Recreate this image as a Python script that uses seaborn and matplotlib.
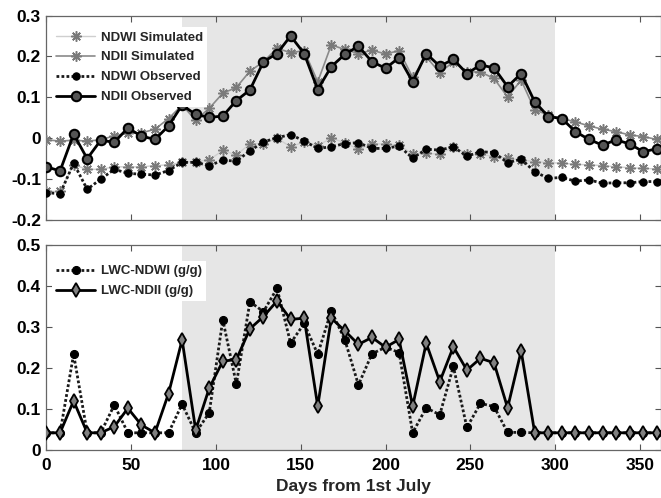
import matplotlib
matplotlib.use("Agg")
import matplotlib.pyplot as plt
import seaborn as sns

days = [0, 8, 16, 24, 32, 40, 48, 56, 64, 72, 80, 88, 96, 104, 112, 120, 128, 136, 144, 152,
        160, 168, 176, 184, 192, 200, 208, 216, 224, 232, 240, 248, 256, 264, 272, 280, 288,
        296, 304, 312, 320, 328, 336, 344, 352, 360]

ndwi_sim = [-0.13, -0.13, -0.065, -0.076, -0.076, -0.07, -0.07, -0.07, -0.067, -0.065, -0.059,
            -0.057, -0.053, -0.03, -0.041, -0.014, -0.013, 0.0, -0.021, -0.009, -0.018,
            0.0, -0.011, -0.027, -0.014, -0.014, -0.017, -0.039, -0.037, -0.039, -0.021, -0.039,
            -0.039, -0.045, -0.049, -0.053, -0.057, -0.06, -0.061, -0.064, -0.065, -0.067, -0.07,
            -0.072, -0.074, -0.075]
ndii_sim = [-0.004, -0.007, -0.005, -0.007, -0.004, 0.006, 0.012, 0.013, 0.022, 0.048, 0.081,
            0.044, 0.073, 0.11, 0.124, 0.164, 0.187, 0.22, 0.209, 0.214, 0.138,
            0.228, 0.217, 0.207, 0.215, 0.206, 0.214, 0.149, 0.199, 0.16, 0.187, 0.162, 0.162,
            0.146, 0.101, 0.142, 0.069, 0.057, 0.048, 0.04, 0.03, 0.022, 0.016, 0.008, 0.004, -0.003]
ndwi_obs = [-0.133, -0.136, -0.061, -0.125, -0.1, -0.076, -0.086, -0.088, -0.09, -0.079, -0.059,
            -0.059, -0.067, -0.054, -0.056, -0.031, -0.009, 0.001, 0.009, -0.007, -0.025,
            -0.021, -0.013, -0.011, -0.025, -0.025, -0.019, -0.049, -0.027, -0.029, -0.021, -0.044,
            -0.033, -0.035, -0.06, -0.051, -0.082, -0.098, -0.096, -0.105, -0.102, -0.11, -0.109,
            -0.109, -0.106, -0.106]
ndii_obs = [-0.07, -0.08, 0.01, -0.05, -0.005, -0.01, 0.025, 0.005, -0.003, 0.03, 0.081, 0.058,
            0.051, 0.054, 0.092, 0.118, 0.187, 0.207, 0.25, 0.207, 0.119,
            0.175, 0.205, 0.225, 0.187, 0.171, 0.197, 0.138, 0.207, 0.176, 0.193, 0.158, 0.179,
            0.172, 0.126, 0.158, 0.089, 0.053, 0.048, 0.016, -0.003, -0.017, -0.004, -0.014,
            -0.033, -0.026]

lwc_ndwi = [0.042, 0.042, 0.234, 0.042, 0.042, 0.11, 0.042, 0.042, 0.042, 0.042, 0.112, 0.042,
            0.091, 0.318, 0.161, 0.362, 0.338, 0.395, 0.261, 0.309, 0.234,
            0.34, 0.269, 0.159, 0.235, 0.251, 0.238, 0.042, 0.103, 0.086, 0.204, 0.055, 0.114,
            0.106, 0.043, 0.043, 0.042, 0.042, 0.042, 0.042, 0.042, 0.042, 0.042, 0.042, 0.042, 0.042]
lwc_ndii = [0.042, 0.042, 0.12, 0.042, 0.042, 0.057, 0.102, 0.061, 0.042, 0.138, 0.269, 0.049,
            0.151, 0.217, 0.221, 0.296, 0.326, 0.364, 0.319, 0.322, 0.107,
            0.322, 0.291, 0.258, 0.275, 0.251, 0.27, 0.107, 0.261, 0.167, 0.252, 0.195, 0.224,
            0.213, 0.103, 0.242, 0.042, 0.042, 0.042, 0.042, 0.042, 0.042, 0.042, 0.042, 0.042, 0.042]

season = [80, 300]
x_ticks = [0, 50, 100, 150, 200, 250, 300, 350]
x_ticklabels = ["0", "50", "100", "150", "200", "250", "300", "350"]
top_yticks = [-0.2, -0.1, 0.0, 0.1, 0.2, 0.3]
top_yticklabels = ["-0.2", "-0.1", "0", "0.1", "0.2", "0.3"]
bot_yticks = [0.0, 0.1, 0.2, 0.3, 0.4, 0.5]
bot_yticklabels = ["0", "0.1", "0.2", "0.3", "0.4", "0.5"]

sns.set_style("ticks")
plt.rcParams["font.family"] = ["Liberation Sans", "DejaVu Sans"]
plt.rcParams["font.weight"] = "bold"

W, H = 661, 498
fig = plt.figure(figsize=(W / 100, H / 100), dpi=100)
left = 46.5 / W
width = (W - 46.5) / W
ax1 = fig.add_axes([left, (H - 220) / H, width, 204.5 / H])
ax2 = fig.add_axes([left, (H - 450) / H, width, 204.7 / H])

for ax in (ax1, ax2):
    ax.axvspan(season[0], season[1], color="#e6e6e6", lw=0, zorder=0)
    ax.set_xlim(0, 362.5)
    ax.set_xticks(x_ticks)
    ax.tick_params(direction="in", top=True, right=True, length=4, width=0.8,
                   colors="#555555", labelcolor="black", labelsize=12.5, pad=4)
    for s in ax.spines.values():
        s.set_color("#666666")
        s.set_linewidth(0.9)
ax2.tick_params(axis="x", pad=6)

# top panel
sns.lineplot(x=days, y=ndwi_sim, ax=ax1, color="#cfcfcf", lw=1.0, marker=(8, 2, 0),
             markersize=7.5, markeredgecolor="#7a7a7a", markeredgewidth=1.1,
             label="NDWI Simulated", zorder=3)
sns.lineplot(x=days, y=ndii_sim, ax=ax1, color="#8a8a8a", lw=1.2, marker=(8, 2, 0),
             markersize=7.5, markeredgecolor="#7a7a7a", markeredgewidth=1.1,
             label="NDII Simulated", zorder=3)
sns.lineplot(x=days, y=ndwi_obs, ax=ax1, color="#1a1a1a", lw=2.0, linestyle=(0, (1, 0.8)),
             marker="o", markersize=5.3, markerfacecolor="black", markeredgecolor="black",
             label="NDWI Observed", zorder=4)
sns.lineplot(x=days, y=ndii_obs, ax=ax1, color="black", lw=2.0, marker="o", markersize=6.8,
             markerfacecolor="#555555", markeredgecolor="black", markeredgewidth=1.5,
             label="NDII Observed", zorder=5)
ax1.set_ylim(-0.2, 0.3)
ax1.set_yticks(top_yticks)
ax1.set_yticklabels(top_yticklabels, fontweight="bold")
ax1.set_xticklabels([])
ax1.set_xlabel("")
ax1.set_ylabel("")
leg1 = ax1.legend(loc="upper left", bbox_to_anchor=(0.0086, 0.942), frameon=True,
                  fancybox=False, framealpha=1, edgecolor="none", facecolor="white",
                  handlelength=3.0, handletextpad=0.4, labelspacing=0.58, borderpad=0.3,
                  borderaxespad=0.0, prop={"weight": "bold", "size": 9.5})
leg1.set_zorder(10)

# bottom panel
sns.lineplot(x=days, y=lwc_ndwi, ax=ax2, color="#1a1a1a", lw=2.0, linestyle=(0, (1, 0.8)),
             marker="o", markersize=5.8, markerfacecolor="black", markeredgecolor="black",
             label="LWC-NDWI (g/g)", zorder=4)
sns.lineplot(x=days, y=lwc_ndii, ax=ax2, color="black", lw=2.0, marker="d", markersize=7,
             markerfacecolor="#808080", markeredgecolor="black", markeredgewidth=1.3,
             label="LWC-NDII (g/g)", zorder=5)
ax2.set_ylim(0, 0.5)
ax2.set_yticks(bot_yticks)
ax2.set_yticklabels(bot_yticklabels, fontweight="bold")
ax2.set_xticklabels(x_ticklabels, fontweight="bold")
ax2.set_xlabel("Days from 1st July", fontsize=12.5, fontweight="bold", labelpad=4)
ax2.set_ylabel("")
leg2 = ax2.legend(loc="upper left", bbox_to_anchor=(0.0086, 0.923), frameon=True,
                  fancybox=False, framealpha=1, edgecolor="none", facecolor="white",
                  handlelength=3.0, handletextpad=0.4, labelspacing=0.58, borderpad=0.3,
                  borderaxespad=0.0, prop={"weight": "bold", "size": 9.5})
leg2.set_zorder(10)

fig.savefig("out.png", dpi=100)
